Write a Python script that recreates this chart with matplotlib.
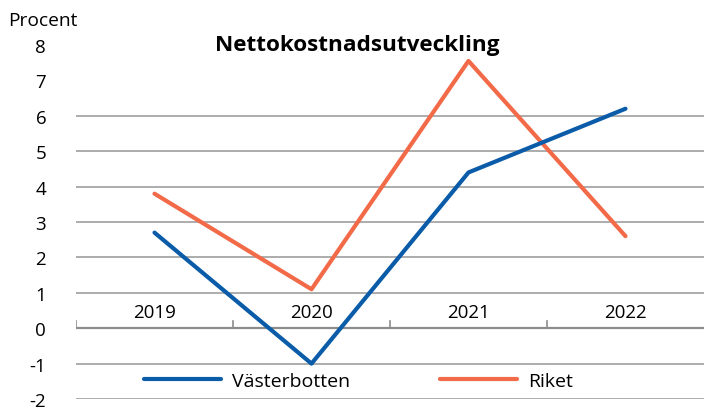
import matplotlib
matplotlib.use("Agg")
import matplotlib.pyplot as plt

years = ["2019", "2020", "2021", "2022"]
vasterbotten = [2.7, -1.0, 4.4, 6.2]
riket = [3.8, 1.1, 7.55, 2.6]
yticks = [-2, -1, 0, 1, 2, 3, 4, 5, 6, 7, 8]
grid_levels = [-2, -1, 1, 2, 3, 4, 5, 6]

plt.rcParams['font.family'] = ['Open Sans', 'DejaVu Sans']

fig = plt.figure(figsize=(7.04, 4.10), dpi=100)
ax = fig.add_axes([76/704, 10/410, 1 - 76/704, (400-46)/410])

x = list(range(len(years)))
for g in grid_levels:
    ax.axhline(g, color="#a6a6a6", lw=1.3, zorder=1)
ax.axhline(0, color="#8c8c8c", lw=1.6, zorder=2)
for b in [-0.5, 0.5, 1.5, 2.5]:
    ax.plot([b, b], [0, 0.2], color="#8c8c8c", lw=1.2, zorder=2)

ax.plot(x, vasterbotten, color="#0a5ca8", lw=3.0, label="Västerbotten", zorder=4, solid_capstyle='round')
ax.plot(x, riket, color="#f26a48", lw=3.0, label="Riket", zorder=3, solid_capstyle='round')

for xi, yr in zip(x, years):
    ax.text(xi, 0.45, yr, ha="center", va="center", fontsize=13.5)

ax.set_xlim(-0.5, 3.5)
ax.set_ylim(-2, 8)
ax.set_yticks(yticks)
ax.set_yticklabels([str(t) for t in yticks], fontsize=13.5)
ax.tick_params(axis="y", length=0, pad=21.5)
ax.tick_params(axis="x", length=0, labelbottom=False)
for s in ax.spines.values():
    s.set_visible(False)

fig.text(0.011, 0.948, "Procent", fontsize=13.8, ha="left", va="center")
fig.text(0.507, 0.89, "Nettokostnadsutveckling", fontsize=16.2, fontweight="bold", ha="center", va="center")

leg = ax.legend(loc="center left", bbox_to_anchor=(126/704, 28/410), bbox_transform=fig.transFigure,
                ncol=2, frameon=False, fontsize=14, handlelength=4.0, handletextpad=0.55,
                columnspacing=4.6)

fig.savefig("out.png", dpi=100)
